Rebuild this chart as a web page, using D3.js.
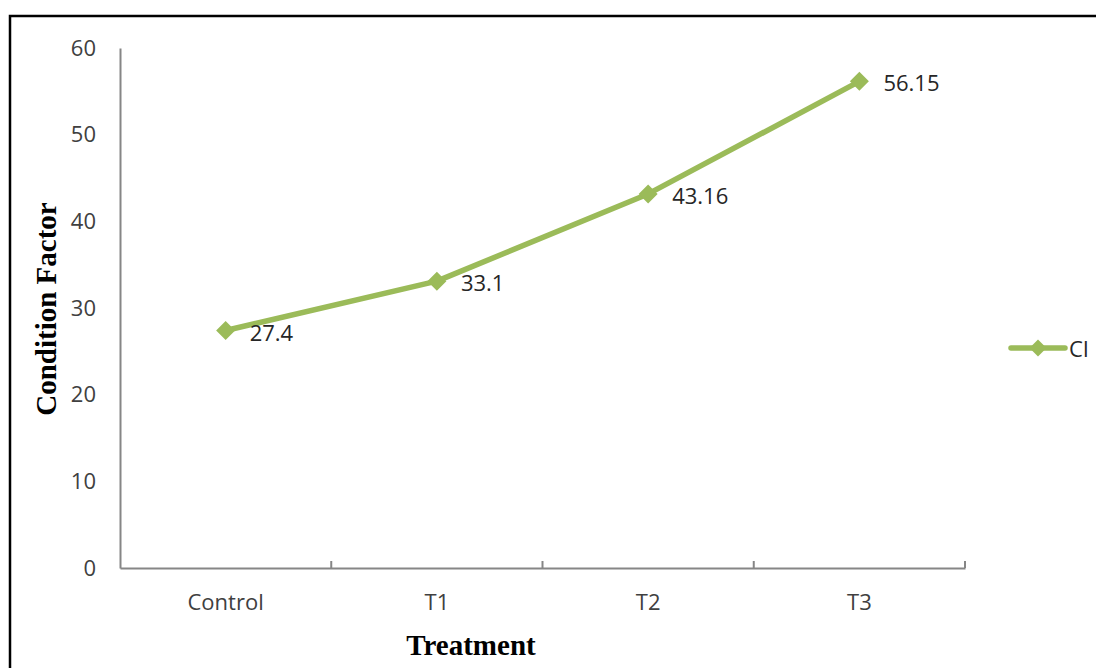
<!DOCTYPE html>
<html><head><meta charset="utf-8">
<script src="https://cdn.jsdelivr.net/npm/d3@7/dist/d3.min.js"></script>
<style>html,body{margin:0;padding:0;background:#fff;}</style>
</head><body>
<svg id="chart" width="1096" height="668"></svg>
<script>
const categories = ["Control", "T1", "T2", "T3"];
const values = [27.4, 33.1, 43.16, 56.15];
const valueLabels = ["27.4", "33.1", "43.16", "56.15"];
const yTicks = [0, 10, 20, 30, 40, 50, 60];
const seriesName = "CI";
const xTitle = "Treatment";
const yTitle = "Condition Factor";

(function () {
const svg = d3.select("#chart");
const green = "#9bbb59";
const pLeft = 120, pRight = 965, pTop = 48, pBottom = 568;

// frame
svg.append("path").attr("d", "M10,668 L10,16 L1096,16")
  .attr("fill", "none").attr("stroke", "#000").attr("stroke-width", 2.5);

const x = d3.scaleBand().domain(categories).range([pLeft, pRight]);
const y = d3.scaleLinear().domain([0, 60]).range([pBottom, pTop]);

// y axis
const yAxis = svg.append("g").attr("transform", `translate(${pLeft},0)`)
  .call(d3.axisLeft(y).tickValues(yTicks).tickSize(0).tickPadding(24));
yAxis.select(".domain").attr("stroke", "#868686").attr("stroke-width", 2);
yAxis.selectAll("text").attr("font-family", "'Open Sans', sans-serif")
  .attr("font-size", 22).attr("fill", "#404040");

// x axis
const xAxis = svg.append("g").attr("transform", `translate(0,${pBottom})`)
  .call(d3.axisBottom(x).tickSize(0).tickPadding(0));
xAxis.select(".domain").attr("stroke", "#868686").attr("stroke-width", 2);
xAxis.selectAll("text").attr("font-family", "'Open Sans', sans-serif")
  .attr("font-size", 22).attr("fill", "#404040").attr("dy", 0).attr("y", 42);
// boundary ticks (upward)
const bounds = categories.map(c => x(c) + x.bandwidth());
svg.append("g").selectAll("line").data(bounds).join("line")
  .attr("x1", d => d).attr("x2", d => d)
  .attr("y1", pBottom - 7).attr("y2", pBottom)
  .attr("stroke", "#868686").attr("stroke-width", 2);

// line
const cx = (d, i) => x(categories[i]) + x.bandwidth() / 2;
svg.append("path").datum(values)
  .attr("d", d3.line().x(cx).y(d => y(d)))
  .attr("fill", "none").attr("stroke", green).attr("stroke-width", 5.5)
  .attr("stroke-linejoin", "round").attr("stroke-linecap", "round");

const diamond = s => `M0,${-s} L${s},0 L0,${s} L${-s},0 Z`;
svg.append("g").selectAll("path").data(values).join("path")
  .attr("d", diamond(9.5))
  .attr("transform", (d, i) => `translate(${cx(d, i)},${y(d)})`)
  .attr("fill", green);

svg.append("g").selectAll("text").data(values).join("text")
  .attr("x", (d, i) => cx(d, i) + 24)
  .attr("y", d => y(d) + 10)
  .attr("font-family", "'Open Sans', sans-serif").attr("font-size", 22)
  .attr("fill", "#262626")
  .text((d, i) => valueLabels[i]);

// titles
svg.append("text").attr("x", 471).attr("y", 655).attr("text-anchor", "middle")
  .attr("font-family", "'Liberation Serif', serif").attr("font-weight", "bold")
  .attr("font-size", 29).text(xTitle);
svg.append("text").attr("transform", "translate(56,309) rotate(-90)")
  .attr("text-anchor", "middle")
  .attr("font-family", "'Liberation Serif', serif").attr("font-weight", "bold")
  .attr("font-size", 29).text(yTitle);

// legend
svg.append("line").attr("x1", 1011).attr("x2", 1065).attr("y1", 348).attr("y2", 348)
  .attr("stroke", green).attr("stroke-width", 5.5).attr("stroke-linecap", "round");
svg.append("path").attr("d", diamond(8.5)).attr("transform", "translate(1038,348)").attr("fill", green);
svg.append("text").attr("x", 1069).attr("y", 357)
  .attr("font-family", "'Open Sans', sans-serif").attr("font-size", 22)
  .attr("fill", "#262626").text(seriesName);
})();
</script>
</body></html>
